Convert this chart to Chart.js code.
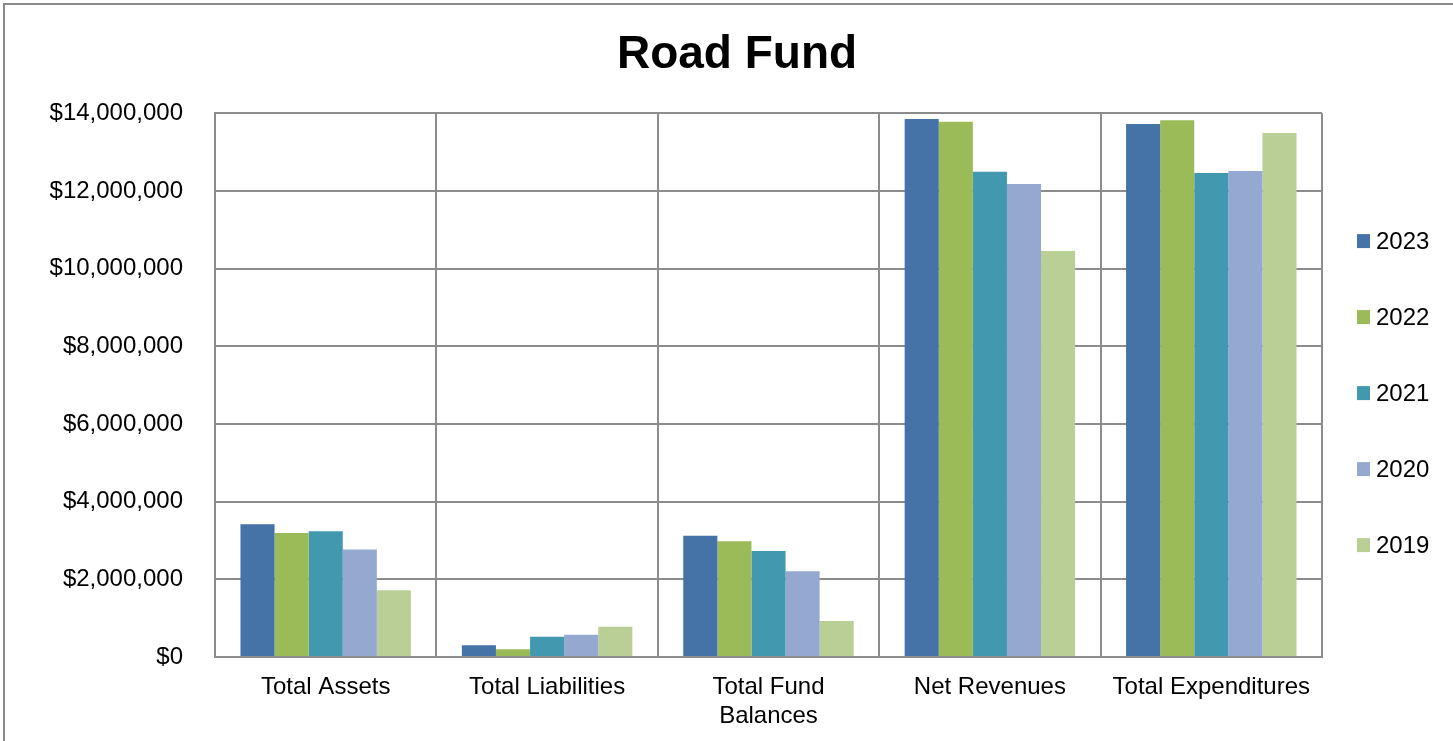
<!DOCTYPE html>
<html>
<head>
<meta charset="utf-8">
<title>Road Fund</title>
<script src="https://cdn.jsdelivr.net/npm/chart.js@4/dist/chart.umd.min.js"></script>
<style>
    html, body { margin: 0; padding: 0; background: #fff; }
    canvas { display: block; }
</style>
</head>
<body>
<canvas id="roadFund" width="1453" height="741"></canvas>
<script>
    'use strict';

    // chart data
    var categories = ['Total Assets', 'Total Liabilities', ['Total Fund', 'Balances'], 'Net Revenues', 'Total Expenditures'];
    var years = ['2023', '2022', '2021', '2020', '2019'];
    var values2023 = [3420000, 300000, 3120000, 13850000, 13720000];
    var values2022 = [3190000, 200000, 2980000, 13780000, 13820000];
    var values2021 = [3240000, 520000, 2730000, 12490000, 12460000];
    var values2020 = [2770000, 570000, 2210000, 12180000, 12510000];
    var values2019 = [1720000, 780000, 930000, 10450000, 13490000];
    var yTickMax = 14000000;
    var yTickStep = 2000000;

    var colors = ['#4572A7', '#9BBB59', '#4298AF', '#95A9D0', '#B9CF96'];
    var seriesValues = [values2023, values2022, values2021, values2020, values2019];
    var fontFamily = '"Liberation Sans", Arial, sans-serif';
    var gridColor = '#8c8c8c';

    var datasets = years.map(function (year, i) {
        return {
            label: year,
            data: seriesValues[i],
            backgroundColor: colors[i],
            borderWidth: 0,
            categoryPercentage: 0.77,
            barPercentage: 1.0
        };
    });

    // outer frame lines (top and left edges of the original chart box)
    var framePlugin = {
        id: 'frame',
        beforeDraw: function (chart) {
            var ctx = chart.ctx;
            ctx.save();
            ctx.strokeStyle = '#8a8a8a';
            ctx.lineWidth = 2;
            ctx.beginPath();
            ctx.moveTo(4, chart.height);
            ctx.lineTo(4, 4);
            ctx.lineTo(chart.width, 4);
            ctx.stroke();
            ctx.restore();
        }
    };

    // legend on the right, drawn like the Excel one
    var sideLegend = {
        id: 'sideLegend',
        afterDraw: function (chart) {
            var ctx = chart.ctx;
            var area = chart.chartArea;
            var mid = (area.top + area.bottom) / 2 + 8;
            var step = 76;
            var n = chart.data.datasets.length;
            ctx.save();
            ctx.font = '24px ' + fontFamily;
            ctx.textBaseline = 'middle';
            ctx.textAlign = 'left';
            chart.data.datasets.forEach(function (ds, i) {
                var cy = mid + (i - (n - 1) / 2) * step;
                ctx.fillStyle = ds.backgroundColor;
                ctx.fillRect(area.right + 35, cy - 7, 13, 14);
                ctx.fillStyle = '#000';
                ctx.fillText(ds.label, area.right + 54, cy + 1);
            });
            ctx.restore();
        }
    };

    var ctx = document.getElementById('roadFund');
    var chart = new Chart(ctx, {
        type: 'bar',
        data: {
            labels: categories,
            datasets: datasets
        },
        plugins: [framePlugin, sideLegend],
        options: {
            responsive: false,
            animation: false,
            devicePixelRatio: 1,
            layout: {
                padding: { left: 36, right: 15, top: 0, bottom: 0 }
            },
            plugins: {
                legend: { display: false },
                tooltip: { enabled: false },
                title: {
                    display: true,
                    text: 'Road Fund',
                    color: '#000',
                    font: { family: fontFamily, size: 46, weight: 'bold' },
                    padding: { top: 28, bottom: 30 }
                }
            },
            scales: {
                x: {
                    offset: true,
                    grid: {
                        offset: true,
                        color: gridColor,
                        lineWidth: 2,
                        drawTicks: false
                    },
                    border: { color: gridColor, width: 2 },
                    ticks: {
                        color: '#000',
                        padding: 16,
                        maxRotation: 0,
                        autoSkip: false,
                        font: { family: fontFamily, size: 24 }
                    },
                    afterFit: function (scale) {
                        scale.height = 84;
                    }
                },
                y: {
                    min: 0,
                    max: yTickMax,
                    grid: {
                        color: gridColor,
                        lineWidth: 2,
                        drawTicks: false
                    },
                    border: { color: gridColor, width: 2 },
                    ticks: {
                        stepSize: yTickStep,
                        color: '#000',
                        padding: 32,
                        font: { family: fontFamily, size: 24 },
                        callback: function (value) {
                            return '$' + Number(value).toLocaleString('en-US');
                        }
                    },
                    afterFit: function (scale) {
                        scale.width = 179;
                    }
                },
                // empty right-hand scale only reserves room for the legend
                legendSpace: {
                    position: 'right',
                    min: 0,
                    max: yTickMax,
                    grid: { display: false, drawOnChartArea: false },
                    border: { display: false },
                    ticks: { display: false },
                    afterFit: function (scale) {
                        scale.width = 116;
                    }
                }
            }
        }
    });
</script>
</body>
</html>
